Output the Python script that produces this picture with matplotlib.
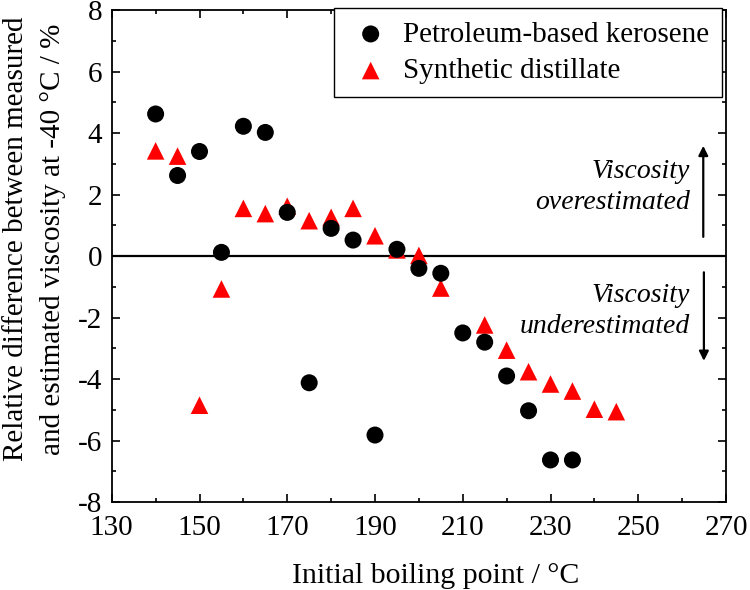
import matplotlib
matplotlib.use("Agg")
import matplotlib.pyplot as plt
from matplotlib.ticker import MultipleLocator

plt.rcParams['font.family'] = ['Liberation Serif', 'DejaVu Serif']
plt.rcParams['axes.unicode_minus'] = False

# Data
petro_x = [140, 145, 150, 155, 160, 165, 170, 175, 180, 185, 190, 195, 200, 205, 210, 215, 220, 225, 230, 235]
petro_y = [4.62, 2.62, 3.4, 0.12, 4.22, 4.02, 1.42, -4.12, 0.9, 0.52, -5.82, 0.22, -0.4, -0.56, -2.5, -2.8, -3.9, -5.03, -6.63, -6.63]

synth_x = [140, 145, 150, 155, 160, 165, 170, 175, 180, 185, 190, 195, 200, 205, 215, 220, 225, 230, 235, 240, 245]
synth_y = [3.42, 3.25, -4.85, -1.07, 1.55, 1.38, 1.62, 1.15, 1.26, 1.55, 0.66, 0.2, 0.02, -1.04, -2.24, -3.06, -3.76, -4.16, -4.39, -4.98, -5.06]

x_ticks = [130, 150, 170, 190, 210, 230, 250, 270]
y_ticks = [-8, -6, -4, -2, 0, 2, 4, 6, 8]

xlabel = "Initial boiling point / °C"
ylabel = "Relative difference between measured\nand estimated viscosity at -40 °C / %"
legend_labels = ["Petroleum-based kerosene", "Synthetic distillate"]

fig = plt.figure(figsize=(7.5, 5.9), dpi=100)
ax = fig.add_axes([0.149, 0.149, 0.819, 0.834])

h_s = ax.scatter(synth_x, synth_y, marker='^', s=160, color='#ff0000', edgecolors='none',
                 label=legend_labels[1], zorder=3)
h_p = ax.scatter(petro_x, petro_y, marker='o', s=150, color='black', edgecolors='none',
                 label=legend_labels[0], zorder=4)

ax.axhline(0, color='black', lw=1.6, zorder=2)

ax.set_xlim(130, 270)
ax.set_ylim(-8, 8)
ax.set_xticks(x_ticks)
ax.set_yticks(y_ticks)
ax.xaxis.set_minor_locator(MultipleLocator(10))
ax.yaxis.set_minor_locator(MultipleLocator(1))
ax.tick_params(which='both', direction='in', top=True, right=True, labelsize=21, width=1.2)
ax.tick_params(which='major', length=5.8)
ax.tick_params(which='minor', length=3.0)
ax.tick_params(axis='x', which='major', pad=9)
ax.tick_params(axis='y', which='major', pad=7)
for s in ax.spines.values():
    s.set_linewidth(1.3)

ax.set_xlabel(xlabel, fontsize=21.5, va='top')
ax.xaxis.set_label_coords(0.528, -0.123)
ax.set_ylabel(ylabel, fontsize=21, linespacing=1.55)
ax.yaxis.set_label_coords(-0.074, 0.535)

leg = ax.legend([h_p, h_s], legend_labels,
                loc='upper right', bbox_to_anchor=(0.9935, 1.004), fontsize=21,
                frameon=True, fancybox=False, edgecolor='black', framealpha=1,
                markerscale=1.0, handlelength=1.6, handletextpad=0.3,
                borderpad=0.45, labelspacing=0.35, borderaxespad=0)
leg.get_frame().set_linewidth(1.0)

ax.text(0.941, 0.640, "Viscosity\noverestimated", transform=ax.transAxes, fontsize=20,
        style='italic', ha='right', va='center', linespacing=1.3)
ax.text(0.941, 0.388, "Viscosity\nunderestimated", transform=ax.transAxes, fontsize=20,
        style='italic', ha='right', va='center', linespacing=1.3)

ax.annotate("", xy=(0.963, 0.724), xytext=(0.963, 0.539), xycoords='axes fraction',
            arrowprops=dict(arrowstyle='-|>', color='black', lw=1.6, mutation_scale=14,
                            shrinkA=0, shrinkB=0))
ax.annotate("", xy=(0.964, 0.287), xytext=(0.964, 0.467), xycoords='axes fraction',
            arrowprops=dict(arrowstyle='-|>', color='black', lw=1.6, mutation_scale=14,
                            shrinkA=0, shrinkB=0))

fig.savefig("out.png", dpi=100)
